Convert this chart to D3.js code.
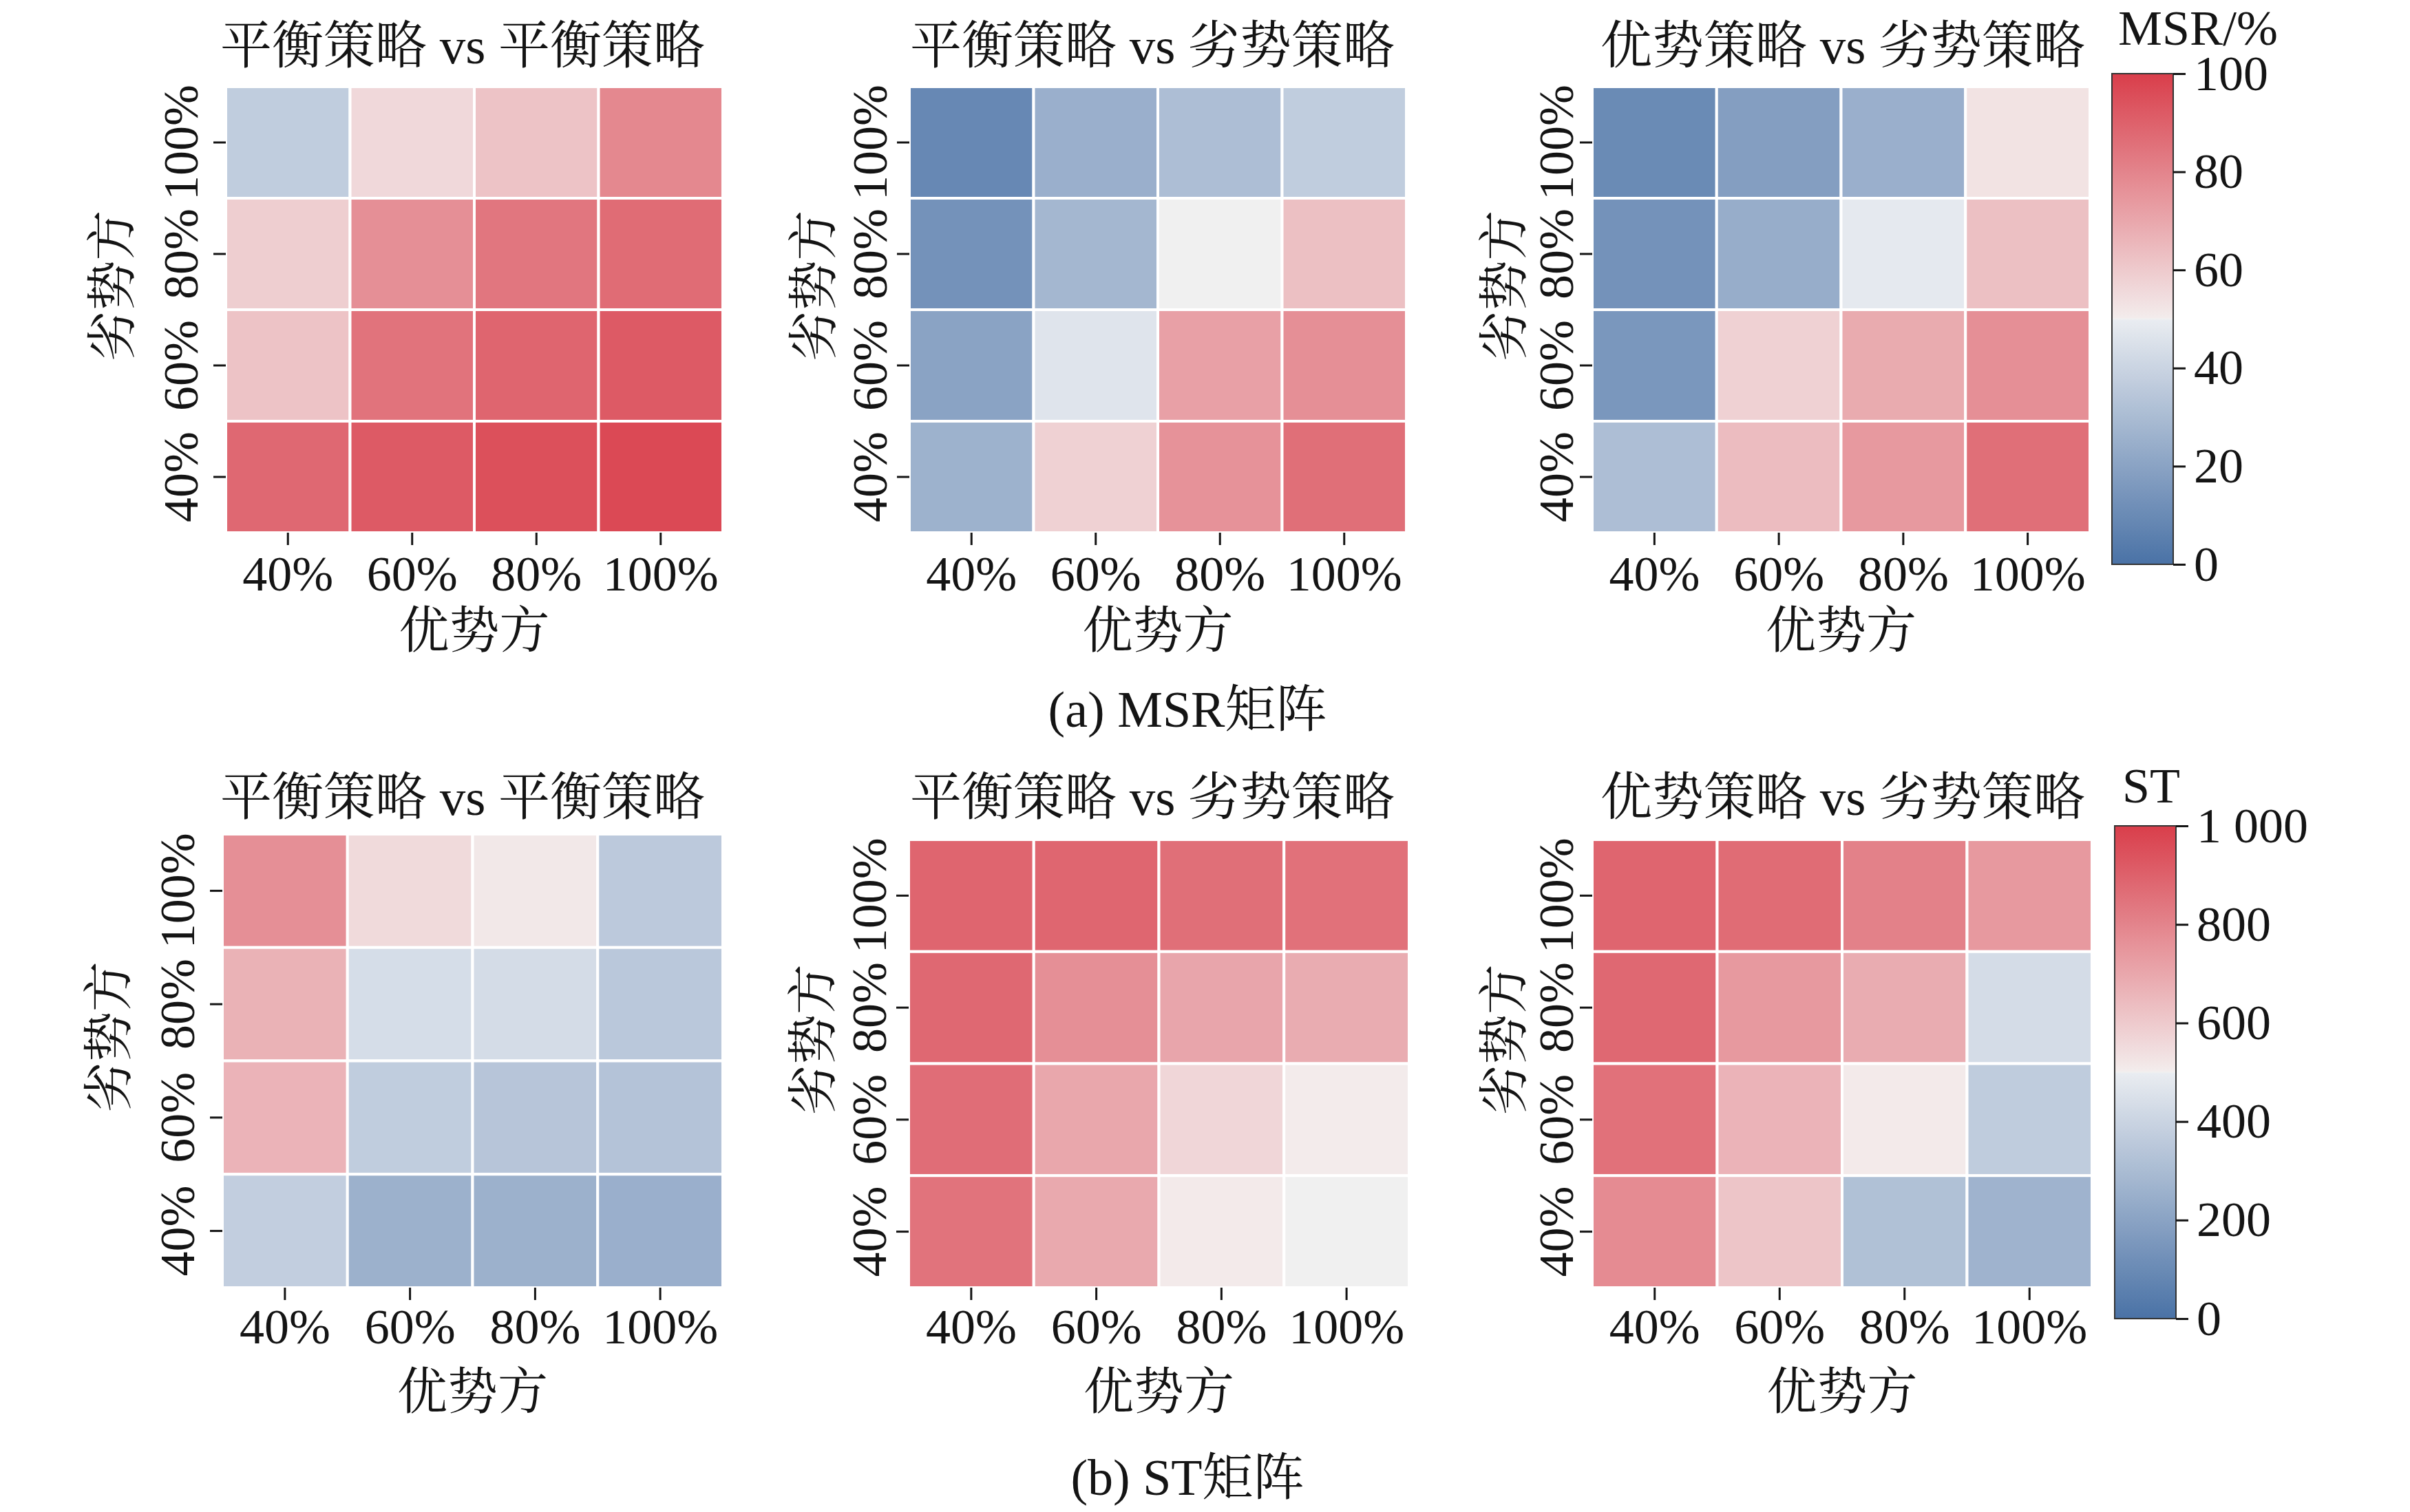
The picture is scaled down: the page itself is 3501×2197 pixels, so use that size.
<!DOCTYPE html>
<html><head><meta charset="utf-8">
<script src="https://cdn.jsdelivr.net/npm/d3@7/dist/d3.min.js"></script>
<style>html,body{margin:0;padding:0;background:#fff;} svg{display:block;}</style>
</head><body>
<svg id="chart" width="3501" height="2197" xmlns="http://www.w3.org/2000/svg"></svg>
<script>
// ---------------- data ----------------
const xCategories = ["40%", "60%", "80%", "100%"];        // 优势方
const yCategories = ["100%", "80%", "60%", "40%"];        // 劣势方 (top -> bottom)
const panelTitles = ["平衡策略 vs 平衡策略", "平衡策略 vs 劣势策略", "优势策略 vs 劣势策略"];
const xAxisTitle = "优势方";
const yAxisTitle = "劣势方";
const captions = ["(a) MSR矩阵", "(b) ST矩阵"];
const colorbarTitles = ["MSR/%", "ST"];

// MSR/% matrices, rows = 劣势方 100%,80%,60%,40% ; cols = 优势方 40%..100%
const msrBalanceVsBalance = [[37, 56, 62, 79], [59, 77, 84, 87], [62, 85, 89, 92], [88, 92, 95, 97]];
const msrBalanceVsWeak    = [[9, 25, 31, 37], [13, 28, 50, 63], [20, 46.5, 72, 77], [26, 58, 76, 86]];
const msrStrongVsWeak     = [[10, 18, 25, 53], [13, 24, 48.5, 63], [15, 58, 69, 77], [31, 64, 74, 86]];
// ST matrices
const stBalanceVsBalance  = [[770, 555, 515, 355], [670, 435, 430, 350], [665, 370, 340, 330], [375, 255, 255, 250]];
const stBalanceVsWeak     = [[890, 885, 860, 855], [880, 770, 705, 685], [865, 700, 565, 507], [850, 695, 510, 500]];
const stStrongVsWeak      = [[890, 870, 810, 740], [880, 740, 685, 430], [855, 665, 510, 365], [780, 615, 320, 265]];

const msrTicks = [0, 20, 40, 60, 80, 100];
const msrTickLabels = ["0", "20", "40", "60", "80", "100"];
const stTicks = [0, 200, 400, 600, 800, 1000];
const stTickLabels = ["0", "200", "400", "600", "800", "1 000"];
const msrMax = 100, stMax = 1000;

// ---------------- style / layout ----------------
const FONT = '"Liberation Serif","Times New Roman","Noto Serif CJK SC","Noto Sans CJK SC",serif';
const TEXT = "#141414";
const cmapStops = ["#4a72a6", "#e9ecf1", "#f0f0f0", "#f3ecec", "#d93e4b"];

const rows = [
  {
    matrices: [msrBalanceVsBalance, msrBalanceVsWeak, msrStrongVsWeak],
    max: msrMax, ticks: msrTicks, tickLabels: msrTickLabels,
    boxes: [{x0: 328, x1: 1050, y0: 126, y1: 774}, {x0: 1321, x1: 2043, y0: 126, y1: 774}, {x0: 2313, x1: 3036, y0: 126, y1: 774}],
    titleY: 66, xTickBase: 858, xTitleY: 916, captionY: 1056,
    cbar: {x0: 3068, x1: 3157, y0: 107, y1: 820}, cbarTitle: {x: 3077, y: 65}
  },
  {
    matrices: [stBalanceVsBalance, stBalanceVsWeak, stStrongVsWeak],
    max: stMax, ticks: stTicks, tickLabels: stTickLabels,
    boxes: [{x0: 323, x1: 1050, y0: 1212, y1: 1871}, {x0: 1320, x1: 2047, y0: 1220, y1: 1871}, {x0: 2313, x1: 3039, y0: 1220, y1: 1871}],
    titleY: 1158, xTickBase: 1952, xTitleY: 2022, captionY: 2172,
    cbar: {x0: 3072, x1: 3161, y0: 1200, y1: 1916}, cbarTitle: {x: 3083, y: 1166}
  }
];
const titleCx = [672, 1674, 2677];
const yTickBaseOff = [41, 33, 28];
const yTitleOff = [165, 139, 128];
const captionX = 1725;

const svg = d3.select("#chart");
svg.append("rect").attr("width", 3501).attr("height", 2197).attr("fill", "#fff");

function colorScale(max) {
  return d3.scaleLinear()
    .domain([0, max * 0.497, max * 0.5, max * 0.503, max])
    .range(cmapStops).interpolate(d3.interpolateRgb).clamp(true);
}

rows.forEach((row, ri) => {
  const color = colorScale(row.max);
  row.boxes.forEach((b, pi) => {
    const mat = row.matrices[pi];
    const x = d3.scaleBand().domain(xCategories).range([b.x0, b.x1]).padding(0);
    const y = d3.scaleBand().domain(yCategories).range([b.y0, b.y1]).padding(0);
    const cells = [];
    yCategories.forEach((yc, r) => xCategories.forEach((xc, c) => cells.push({xc, yc, v: mat[r][c]})));
    const g = svg.append("g");
    g.selectAll("rect.cell").data(cells).join("rect")
      .attr("class", "cell")
      .attr("x", d => x(d.xc)).attr("y", d => y(d.yc))
      .attr("width", x.bandwidth()).attr("height", y.bandwidth())
      .attr("fill", d => color(d.v))
      .attr("stroke", "#ffffff").attr("stroke-width", 4);

    // x axis
    const gx = svg.append("g").attr("transform", `translate(0,${b.y1})`)
      .call(d3.axisBottom(x).tickSize(18).tickSizeOuter(0));
    gx.select(".domain").remove();
    gx.selectAll(".tick line").attr("stroke", TEXT).attr("stroke-width", 3);
    gx.selectAll(".tick text").attr("y", row.xTickBase - b.y1).attr("dy", null)
      .attr("fill", TEXT).style("font-family", FONT).style("font-size", "72px");

    // y axis
    const gy = svg.append("g").attr("transform", `translate(${b.x0},0)`)
      .call(d3.axisLeft(y).tickSize(18).tickSizeOuter(0));
    gy.select(".domain").remove();
    gy.selectAll(".tick line").attr("stroke", TEXT).attr("stroke-width", 3);
    gy.selectAll(".tick text").attr("x", null).attr("dy", null)
      .attr("text-anchor", "middle")
      .attr("transform", `translate(${-yTickBaseOff[pi]},0) rotate(-90)`)
      .attr("fill", TEXT).style("font-family", FONT).style("font-size", "72px");

    // title
    svg.append("text").attr("x", titleCx[pi]).attr("y", row.titleY)
      .attr("text-anchor", "middle").attr("dominant-baseline", "central")
      .attr("fill", TEXT).style("font-family", FONT).style("font-size", "75px")
      .text(panelTitles[pi]);
    // x title
    svg.append("text").attr("x", (b.x0 + b.x1) / 2).attr("y", row.xTitleY)
      .attr("text-anchor", "middle").attr("dominant-baseline", "central")
      .attr("fill", TEXT).style("font-family", FONT).style("font-size", "73px")
      .text(xAxisTitle);
    // y title
    const cy = (b.y0 + b.y1) / 2 - 35;
    svg.append("text").attr("transform", `translate(${b.x0 - yTitleOff[pi]},${cy}) rotate(-90)`)
      .attr("text-anchor", "middle").attr("dominant-baseline", "central")
      .attr("fill", TEXT).style("font-family", FONT).style("font-size", "73px")
      .text(yAxisTitle);
  });

  // colorbar
  const cb = row.cbar;
  const gradId = "grad" + ri;
  const grad = svg.append("defs").append("linearGradient").attr("id", gradId)
    .attr("x1", 0).attr("y1", 1).attr("x2", 0).attr("y2", 0);
  const stopVals = d3.range(0, 1.0001, 0.02).concat([0.497, 0.5, 0.503]).sort((a, b) => a - b);
  grad.selectAll("stop").data(stopVals).join("stop")
    .attr("offset", d => d).attr("stop-color", d => color(d * row.max));
  svg.append("rect").attr("x", cb.x0).attr("y", cb.y0)
    .attr("width", cb.x1 - cb.x0).attr("height", cb.y1 - cb.y0)
    .attr("fill", `url(#${gradId})`).attr("stroke", "#333").attr("stroke-width", 2);
  const cs = d3.scaleLinear().domain([0, row.max]).range([cb.y1, cb.y0]);
  const gc = svg.append("g").attr("transform", `translate(${cb.x1},0)`)
    .call(d3.axisRight(cs).tickValues(row.ticks).tickFormat((d, i) => row.tickLabels[i]).tickSize(18).tickPadding(12));
  gc.select(".domain").remove();
  gc.selectAll(".tick line").attr("stroke", TEXT).attr("stroke-width", 3);
  gc.selectAll(".tick text").attr("fill", TEXT).style("font-family", FONT).style("font-size", "72px");

  svg.append("text").attr("x", row.cbarTitle.x).attr("y", row.cbarTitle.y)
    .attr("fill", TEXT).style("font-family", FONT).style("font-size", "72px")
    .text(colorbarTitles[ri]);

  svg.append("text").attr("x", captionX).attr("y", row.captionY)
    .attr("text-anchor", "middle")
    .attr("fill", TEXT).style("font-family", FONT).style("font-size", "74px")
    .text(captions[ri]);
});
</script>
</body></html>
